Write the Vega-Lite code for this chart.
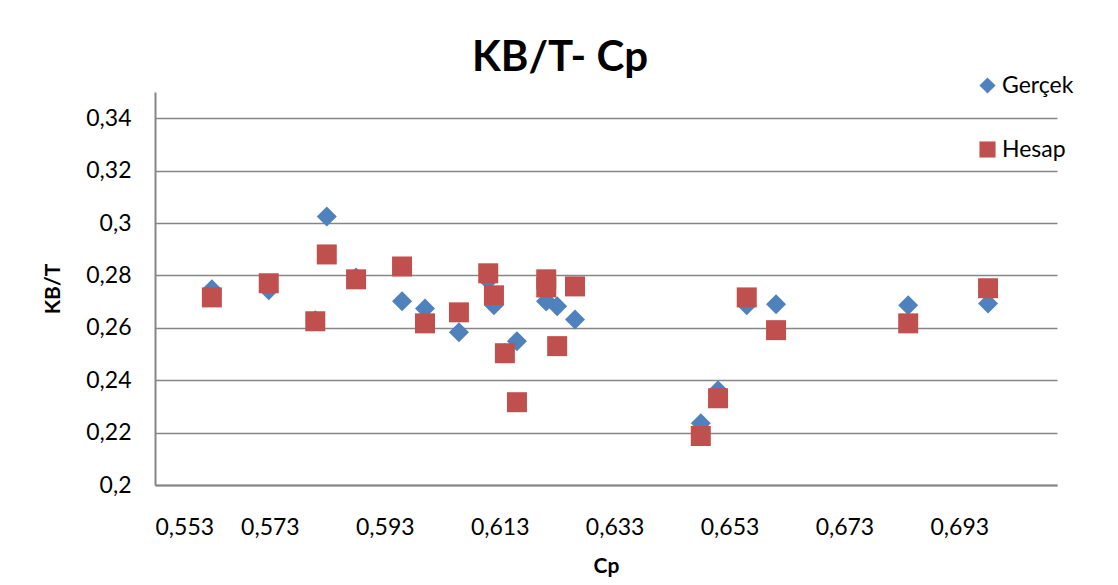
{
  "$schema": "https://vega.github.io/schema/vega-lite/v6.json",
  "width": 902,
  "height": 393,
  "autosize": {"type": "none"},
  "padding": {"left": 155, "top": 92, "right": 61, "bottom": 100},
  "background": "white",
  "config": {
    "locale": {"number": {"decimal": ",", "thousands": ".", "grouping": [3], "currency": ["", ""]}},
    "font": "Lato",
    "view": {"stroke": null}
  },
  "title": {
    "text": "KB/T- Cp",
    "fontSize": 42,
    "fontWeight": "bold",
    "font": "Lato",
    "color": "#000000",
    "anchor": "middle",
    "dx": -46,
    "offset": -6
  },
  "data": {
    "values": [
      {"cp": 0.5629, "kbt": 0.2747, "series": "Gerçek"},
      {"cp": 0.5728, "kbt": 0.2743, "series": "Gerçek"},
      {"cp": 0.5809, "kbt": 0.2629, "series": "Gerçek"},
      {"cp": 0.5829, "kbt": 0.3025, "series": "Gerçek"},
      {"cp": 0.5880, "kbt": 0.2792, "series": "Gerçek"},
      {"cp": 0.5960, "kbt": 0.2701, "series": "Gerçek"},
      {"cp": 0.6000, "kbt": 0.2674, "series": "Gerçek"},
      {"cp": 0.6059, "kbt": 0.2583, "series": "Gerçek"},
      {"cp": 0.6110, "kbt": 0.2781, "series": "Gerçek"},
      {"cp": 0.6120, "kbt": 0.2686, "series": "Gerçek"},
      {"cp": 0.6139, "kbt": 0.2503, "series": "Gerçek"},
      {"cp": 0.6160, "kbt": 0.2549, "series": "Gerçek"},
      {"cp": 0.6211, "kbt": 0.2701, "series": "Gerçek"},
      {"cp": 0.6211, "kbt": 0.2701, "series": "Gerçek"},
      {"cp": 0.6230, "kbt": 0.2682, "series": "Gerçek"},
      {"cp": 0.6261, "kbt": 0.2632, "series": "Gerçek"},
      {"cp": 0.6480, "kbt": 0.2236, "series": "Gerçek"},
      {"cp": 0.6510, "kbt": 0.2362, "series": "Gerçek"},
      {"cp": 0.6560, "kbt": 0.2686, "series": "Gerçek"},
      {"cp": 0.6611, "kbt": 0.2690, "series": "Gerçek"},
      {"cp": 0.6841, "kbt": 0.2686, "series": "Gerçek"},
      {"cp": 0.6980, "kbt": 0.2693, "series": "Gerçek"},
      {"cp": 0.5629, "kbt": 0.2716, "series": "Hesap"},
      {"cp": 0.5728, "kbt": 0.2770, "series": "Hesap"},
      {"cp": 0.5809, "kbt": 0.2625, "series": "Hesap"},
      {"cp": 0.5829, "kbt": 0.2880, "series": "Hesap"},
      {"cp": 0.5880, "kbt": 0.2785, "series": "Hesap"},
      {"cp": 0.5960, "kbt": 0.2834, "series": "Hesap"},
      {"cp": 0.6000, "kbt": 0.2617, "series": "Hesap"},
      {"cp": 0.6059, "kbt": 0.2659, "series": "Hesap"},
      {"cp": 0.6110, "kbt": 0.2808, "series": "Hesap"},
      {"cp": 0.6120, "kbt": 0.2724, "series": "Hesap"},
      {"cp": 0.6139, "kbt": 0.2503, "series": "Hesap"},
      {"cp": 0.6160, "kbt": 0.2316, "series": "Hesap"},
      {"cp": 0.6211, "kbt": 0.2785, "series": "Hesap"},
      {"cp": 0.6211, "kbt": 0.2754, "series": "Hesap"},
      {"cp": 0.6230, "kbt": 0.2530, "series": "Hesap"},
      {"cp": 0.6261, "kbt": 0.2758, "series": "Hesap"},
      {"cp": 0.6480, "kbt": 0.2187, "series": "Hesap"},
      {"cp": 0.6510, "kbt": 0.2331, "series": "Hesap"},
      {"cp": 0.6560, "kbt": 0.2716, "series": "Hesap"},
      {"cp": 0.6611, "kbt": 0.2591, "series": "Hesap"},
      {"cp": 0.6841, "kbt": 0.2617, "series": "Hesap"},
      {"cp": 0.6980, "kbt": 0.2751, "series": "Hesap"}
    ]
  },
  "mark": {"type": "point", "filled": true, "opacity": 1, "size": 400},
  "encoding": {
    "x": {
      "field": "cp",
      "type": "quantitative",
      "title": "Cp",
      "scale": {"domain": [0.553, 0.71], "nice": false, "zero": false},
      "axis": {
        "values": [0.553, 0.573, 0.593, 0.613, 0.633, 0.653, 0.673, 0.693],
        "format": ".3f",
        "grid": false,
        "ticks": false,
        "domainColor": "#868686",
        "domainWidth": 2,
        "labelFontSize": 23,
        "labelColor": "#000000",
        "labelPadding": 31,
        "labelFont": "Lato",
        "titleFontSize": 21,
        "titleFont": "Lato",
        "titleFontWeight": "bold",
        "titleColor": "#000000",
        "titlePadding": 16
      }
    },
    "y": {
      "field": "kbt",
      "type": "quantitative",
      "title": "KB/T",
      "scale": {"domain": [0.2, 0.35], "nice": false, "zero": false},
      "axis": {
        "values": [0.2, 0.22, 0.24, 0.26, 0.28, 0.3, 0.32, 0.34],
        "format": "~r",
        "grid": true,
        "gridColor": "#868686",
        "gridWidth": 1.5,
        "ticks": false,
        "domainColor": "#868686",
        "domainWidth": 2,
        "labelFontSize": 23,
        "labelColor": "#000000",
        "labelPadding": 24,
        "labelFont": "Lato",
        "titleFontSize": 21,
        "titleFont": "Lato",
        "titleFontWeight": "bold",
        "titleColor": "#000000",
        "titlePadding": 22
      }
    },
    "color": {
      "field": "series",
      "type": "nominal",
      "scale": {"domain": ["Gerçek", "Hesap"], "range": ["#4F81BD", "#C0504D"]},
      "legend": {
        "title": null,
        "orient": "none",
        "legendX": 821,
        "legendY": -18,
        "rowPadding": 40,
        "labelFontSize": 23,
        "labelFont": "Lato",
        "labelColor": "#000000",
        "symbolSize": 260,
        "labelOffset": 3
      }
    },
    "shape": {
      "field": "series",
      "type": "nominal",
      "scale": {"domain": ["Gerçek", "Hesap"], "range": ["diamond", "square"]}
    }
  }
}
